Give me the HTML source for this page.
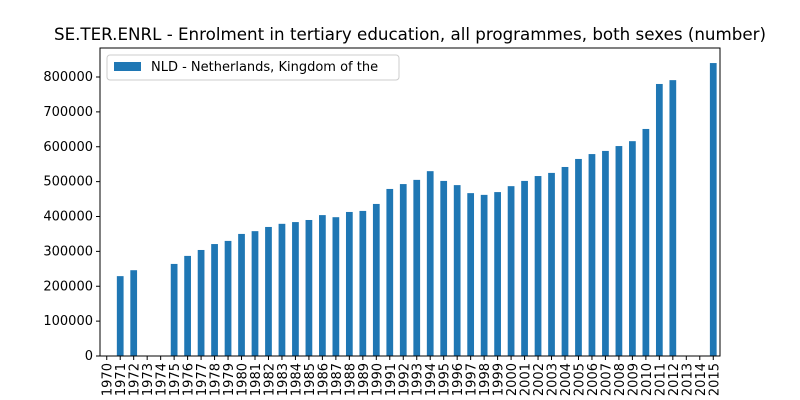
<!DOCTYPE html>
<html><head><meta charset="utf-8"><style>
body{margin:0;background:#fff;}
svg{display:block;font-family:"DejaVu Sans","Liberation Sans",sans-serif;}
</style></head><body>
<svg id="chart" width="800" height="400">
<rect width="800" height="400" fill="#fff"/>
<text x="410" y="40" text-anchor="middle" font-size="16.7">SE.TER.ENRL - Enrolment in tertiary education, all programmes, both sexes (number)</text>
<g id="bars"></g><g id="axes"></g>
<g>
<rect x="107" y="55" width="292" height="25" fill="#fff" stroke="#ccc" rx="3"/>
<rect x="114" y="62" width="27" height="9" fill="#1f77b4"/>
<text x="151" y="71" font-size="13">NLD - Netherlands, Kingdom of the</text>
</g>
</svg>
<script>
const years=[];for(let y=1970;y<=2015;y++)years.push(String(y));
const values=[null,229000,246000,null,null,264000,287000,304000,321000,330000,350000,358000,370000,379000,384000,390000,404000,398000,413000,416000,436000,479000,493000,505000,530000,502000,490000,467000,462000,470000,487000,502000,516000,525000,542000,565000,579000,588000,602000,616000,651000,780000,791000,null,null,840000];
const yTicks=[0,100000,200000,300000,400000,500000,600000,700000,800000];
const L=100,R=720,T=48,B=356;
const step=(R-L)/years.length;
const xs=i=>L+step*(i+0.5);
const ys=v=>B-v*(B-77)/800000;
const NS="http://www.w3.org/2000/svg";
const bars=document.getElementById('bars'),axes=document.getElementById('axes');
function mk(t,a,p){const e=document.createElementNS(NS,t);for(const k in a)e.setAttribute(k,a[k]);p.appendChild(e);return e;}
values.forEach((v,i)=>{if(v==null)return;
const r=mk('rect',{x:xs(i)-step/4,y:ys(v),width:step/2,height:B-ys(v),fill:'#1f77b4'},bars);

});
mk('rect',{x:L,y:T,width:R-L,height:B-T,fill:'none',stroke:'#000','stroke-width':1},axes);
yTicks.forEach(t=>{const y=ys(t);
mk('line',{x1:L-4,x2:L,y1:y,y2:y,stroke:'#000'},axes);
const tx=mk('text',{x:L-7,y:y+4,'text-anchor':'end','font-size':13},axes);tx.textContent=t;

});
years.forEach((yr,i)=>{const x=xs(i);
mk('line',{x1:x,x2:x,y1:B,y2:B+4,stroke:'#000'},axes);
const tx=mk('text',{x:x+5,y:B+7,'text-anchor':'end','font-size':13,transform:`rotate(-90 ${x+5} ${B+7})`},axes);tx.textContent=yr;

});
</script>
</body></html>
